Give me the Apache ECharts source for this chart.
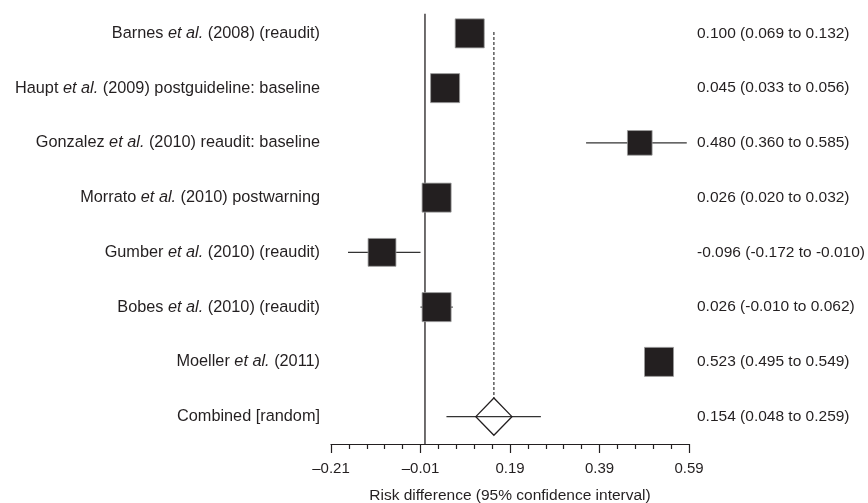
<!DOCTYPE html>
<html>
<head>
<meta charset="utf-8">
<script src="https://cdn.jsdelivr.net/npm/echarts@6/dist/echarts.min.js"></script>
<style>
  html, body { margin: 0; padding: 0; background: #fff; }
  #chart { width: 868px; height: 503px; }
</style>
</head>
<body>
<div id="chart"></div>
<script>
// study rows, top to bottom
var studies = [
  'Barnes et al. (2008) (reaudit)',
  'Haupt et al. (2009) postguideline: baseline',
  'Gonzalez et al. (2010) reaudit: baseline',
  'Morrato et al. (2010) postwarning',
  'Gumber et al. (2010) (reaudit)',
  'Bobes et al. (2010) (reaudit)',
  'Moeller et al. (2011)',
  'Combined [random]'
];
var estimate = [0.100, 0.045, 0.480, 0.026, -0.096, 0.026, 0.523, 0.154];
var lower    = [0.069, 0.033, 0.360, 0.020, -0.172, -0.010, 0.495, 0.048];
var upper    = [0.132, 0.056, 0.585, 0.032, -0.010, 0.062, 0.549, 0.259];
// relative box weight
var weight   = [1, 1, 0.85, 1, 0.96, 1, 1];
var xTicks   = [-0.21, -0.01, 0.19, 0.39, 0.59];

var ink = '#231f20';
var font = '"Liberation Sans", Arial, sans-serif';

function fmt(v) {
  return (v < 0 ? '-' : '') + Math.abs(v).toFixed(3);
}
var ciLabels = estimate.map(function (e, i) {
  return fmt(e) + ' (' + fmt(lower[i]) + ' to ' + fmt(upper[i]) + ')';
});

var last = studies.length - 1;
var studyData = [];
for (var i = 0; i < last; i++) {
  studyData.push([i, lower[i], upper[i], estimate[i], weight[i]]);
}
var pooledData = [[last, lower[last], upper[last], estimate[last]]];

var chart = echarts.init(document.getElementById('chart'));

chart.setOption({
  animation: false,
  backgroundColor: '#fff',
  textStyle: { fontFamily: font, color: ink },
  grid: { left: 331, right: 179, top: 6, bottom: 59, containLabel: false, outerBoundsMode: 'none' },
  xAxis: {
    type: 'value',
    min: xTicks[0],
    max: xTicks[xTicks.length - 1],
    interval: 0.2,
    splitLine: { show: false },
    axisLine: { show: true, lineStyle: { color: ink, width: 1.2 } },
    axisTick: { show: true, length: 9, lineStyle: { color: ink, width: 1.2 } },
    minorTick: { show: true, splitNumber: 5, length: 5, lineStyle: { color: ink, width: 1.2 } },
    minorSplitLine: { show: false },
    axisLabel: {
      margin: 17, fontSize: 15, color: ink, fontFamily: font,
      formatter: function (v) {
        var r = Math.round(v * 100) / 100;
        return (r < 0 ? '\u2013' : '') + Math.abs(r).toFixed(2);
      }
    },
    name: 'Risk difference (95% confidence interval)',
    nameLocation: 'middle',
    nameGap: 44,
    nameTextStyle: { fontSize: 15.5, color: ink, fontFamily: font }
  },
  yAxis: [{
    type: 'category',
    inverse: true,
    data: studies,
    axisLine: { show: false },
    axisTick: { show: false },
    splitLine: { show: false },
    axisLabel: {
      margin: 11, fontSize: 16.3, color: ink, fontFamily: font,
      formatter: function (s) { return s.replace('et al.', '{i|et al.}'); },
      rich: { i: { fontStyle: 'italic', fontSize: 16.3, color: ink, fontFamily: font } }
    }
  }, {
    type: 'category',
    inverse: true,
    position: 'right',
    data: ciLabels,
    axisLine: { show: false },
    axisTick: { show: false },
    splitLine: { show: false },
    axisLabel: { margin: 8, fontSize: 15.5, color: ink, fontFamily: font }
  }],
  series: [{
    // zero line and dashed line at pooled estimate
    type: 'custom',
    z: 1,
    data: [[0, estimate[last]]],
    encode: { x: [0, 1] },
    renderItem: function (params, api) {
      var band = api.size([0, 1])[1];
      var zTop = api.coord([0, 0]);
      var zBot = api.coord([0, last]);
      var pTop = api.coord([api.value(1), 0]);
      var pBot = api.coord([api.value(1), last]);
      return {
        type: 'group',
        children: [{
          type: 'line',
          shape: { x1: zTop[0], y1: zTop[1] - band * 0.36, x2: zBot[0], y2: zBot[1] + band * 0.5 },
          style: { stroke: ink, lineWidth: 1.3 }
        }, {
          type: 'line',
          shape: { x1: pTop[0], y1: pTop[1] - 1.5, x2: pBot[0], y2: pBot[1] - band * 0.34 },
          style: { stroke: '#333', lineWidth: 1.2, lineDash: [3, 2] }
        }]
      };
    }
  }, {
    type: 'custom',
    z: 3,
    data: studyData,
    encode: { x: [1, 2, 3], y: 0 },
    renderItem: function (params, api) {
      var i = api.value(0);
      var band = api.size([0, 1])[1];
      var pL = api.coord([api.value(1), i]);
      var pH = api.coord([api.value(2), i]);
      var pE = api.coord([api.value(3), i]);
      var s = band * 0.53 * api.value(4);
      return {
        type: 'group',
        children: [{
          type: 'line',
          shape: { x1: pL[0], y1: pL[1], x2: pH[0], y2: pH[1] },
          style: { stroke: '#333', lineWidth: 1.3 }
        }, {
          type: 'rect',
          shape: { x: pE[0] - s / 2, y: pE[1] - s / 2, width: s, height: s },
          style: { fill: ink, stroke: '#9a9a9a', lineWidth: 0.8 }
        }]
      };
    }
  }, {
    type: 'custom',
    z: 3,
    data: pooledData,
    encode: { x: [1, 2, 3], y: 0 },
    renderItem: function (params, api) {
      var i = api.value(0);
      var band = api.size([0, 1])[1];
      var pL = api.coord([api.value(1), i]);
      var pH = api.coord([api.value(2), i]);
      var pE = api.coord([api.value(3), i]);
      var hw = band * 0.33, hh = band * 0.34;
      return {
        type: 'group',
        children: [{
          type: 'line',
          shape: { x1: pL[0], y1: pL[1], x2: pH[0], y2: pH[1] },
          style: { stroke: '#333', lineWidth: 1.3 }
        }, {
          type: 'polygon',
          shape: { points: [[pE[0], pE[1] - hh], [pE[0] + hw, pE[1]], [pE[0], pE[1] + hh], [pE[0] - hw, pE[1]]] },
          style: { fill: 'none', stroke: ink, lineWidth: 1.3 }
        }]
      };
    }
  }]
});
</script>
</body>
</html>
